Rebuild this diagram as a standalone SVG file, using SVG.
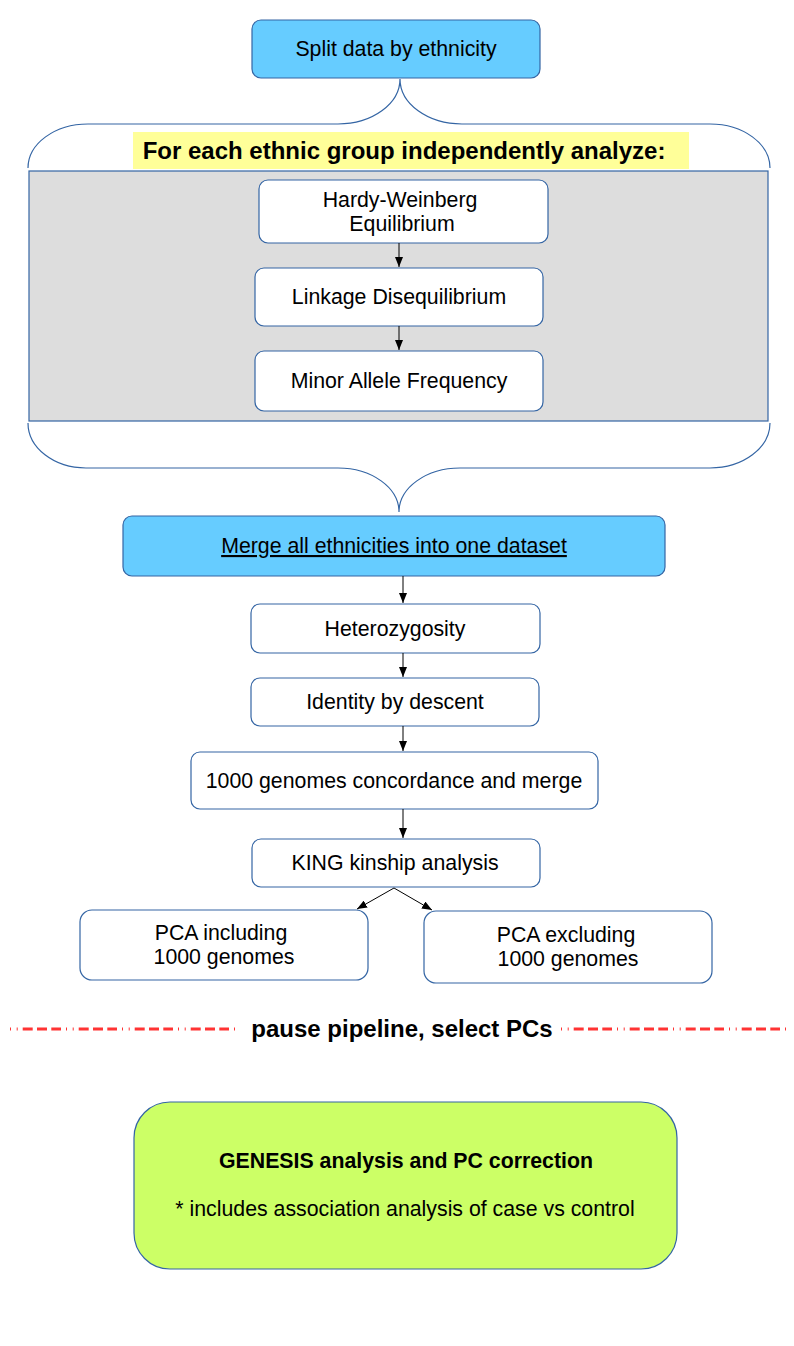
<svg xmlns="http://www.w3.org/2000/svg" width="794" height="1346" viewBox="0 0 794 1346">
<defs>
<marker id="arr" markerWidth="10" markerHeight="8" refX="10" refY="4" orient="auto" markerUnits="userSpaceOnUse">
<path d="M0,0 L10,4 L0,8 Z" fill="#000"/>
</marker>
<style>
.box{fill:#fff;stroke:#3465a4;stroke-width:1.2}
.blue{fill:#66ccff;stroke:#3465a4;stroke-width:1.2}
.t{font-family:"Liberation Sans",Arial,sans-serif;font-size:21.3px;fill:#000;text-anchor:middle}
.b{font-weight:bold}
.con{stroke:#000;stroke-width:1;fill:none;marker-end:url(#arr)}
.brace{fill:none;stroke:#3465a4;stroke-width:1.2}
.dash{stroke:#ff3333;stroke-width:3;stroke-dasharray:1 5.7 1 5 10 4.3 10 4.3 9.7 5}
</style>
</defs>
<rect width="794" height="1346" fill="#fff"/>

<g id="group-panel">
<rect x="29" y="171" width="739" height="250" fill="#dddddd" stroke="#3465a4" stroke-width="1.2"/>
<path class="brace" d="M28,168 A60,44 0 0 1 88,124 L338,124 A62,45 0 0 0 400,79 A62,45 0 0 0 462,124 L710,124 A60,44 0 0 1 770,168"/>
<path class="brace" d="M28,423 A58,45 0 0 0 86,468 L338,468 A61,44 0 0 1 399,512 A61,44 0 0 1 460,468 L710,468 A60,45 0 0 0 770,423"/>
<rect x="133" y="132" width="556" height="37" fill="#ffff99"/>
<text class="t b" x="404" y="159" style="font-size:24px">For each ethnic group independently analyze:</text>
</g>

<g id="node-split">
<rect class="blue" x="252" y="20" width="288" height="58" rx="9"/>
<text class="t" x="396" y="56">Split data by ethnicity</text>
</g>

<g id="node-hwe">
<rect class="box" x="259" y="180" width="289" height="63" rx="9"/>
<text class="t" x="400" y="207">Hardy-Weinberg</text>
<text class="t" x="402" y="231">Equilibrium</text>
</g>

<g id="node-ld">
<rect class="box" x="255" y="268" width="288" height="58" rx="9"/>
<text class="t" x="399" y="304">Linkage Disequilibrium</text>
</g>

<g id="node-maf">
<rect class="box" x="255" y="351" width="288" height="60" rx="9"/>
<text class="t" x="399" y="388">Minor Allele Frequency</text>
</g>

<g id="node-merge">
<rect class="blue" x="123" y="516" width="542" height="60" rx="9"/>
<text class="t" x="394" y="553" text-decoration="underline">Merge all ethnicities into one dataset</text>
</g>

<g id="node-het">
<rect class="box" x="251" y="604" width="289" height="49" rx="9"/>
<text class="t" x="395" y="636">Heterozygosity</text>
</g>

<g id="node-ibd">
<rect class="box" x="251" y="678" width="288" height="48" rx="9"/>
<text class="t" x="395" y="709">Identity by descent</text>
</g>

<g id="node-1000g">
<rect class="box" x="191" y="752" width="407" height="57" rx="9"/>
<text class="t" x="394" y="788">1000 genomes concordance and merge</text>
</g>

<g id="node-king">
<rect class="box" x="252" y="839" width="288" height="48" rx="9"/>
<text class="t" x="395" y="870">KING kinship analysis</text>
</g>

<g id="node-pca-inc">
<rect class="box" x="80" y="910" width="288" height="70" rx="12"/>
<text class="t" x="221" y="940">PCA including</text>
<text class="t" x="224" y="964">1000 genomes</text>
</g>

<g id="node-pca-exc">
<rect class="box" x="424" y="911" width="288" height="72" rx="12"/>
<text class="t" x="566" y="942">PCA excluding</text>
<text class="t" x="568" y="966">1000 genomes</text>
</g>

<g id="pause">
<line class="dash" x1="10" y1="1029" x2="240" y2="1029"/>
<line class="dash" x1="561" y1="1029" x2="787" y2="1029"/>
<text class="t b" x="402" y="1037" style="font-size:24px">pause pipeline, select PCs</text>
</g>

<g id="node-genesis">
<rect x="134" y="1102" width="543" height="167" rx="36" fill="#ccff66" stroke="#3465a4" stroke-width="1.2"/>
<text class="t b" x="406" y="1168">GENESIS analysis and PC correction</text>
<text class="t" x="405" y="1216">* includes association analysis of case vs control</text>
</g>

<g id="connectors">
<line class="con" x1="399" y1="243" x2="399" y2="267"/>
<line class="con" x1="399" y1="326" x2="399" y2="350"/>
<line class="con" x1="403" y1="576" x2="403" y2="603"/>
<line class="con" x1="403" y1="653" x2="403" y2="677"/>
<line class="con" x1="403" y1="726" x2="403" y2="751"/>
<line class="con" x1="403" y1="809" x2="403" y2="838"/>
<line class="con" x1="394" y1="888" x2="357" y2="909"/>
<line class="con" x1="394" y1="888" x2="432" y2="910"/>
</g>
</svg>
